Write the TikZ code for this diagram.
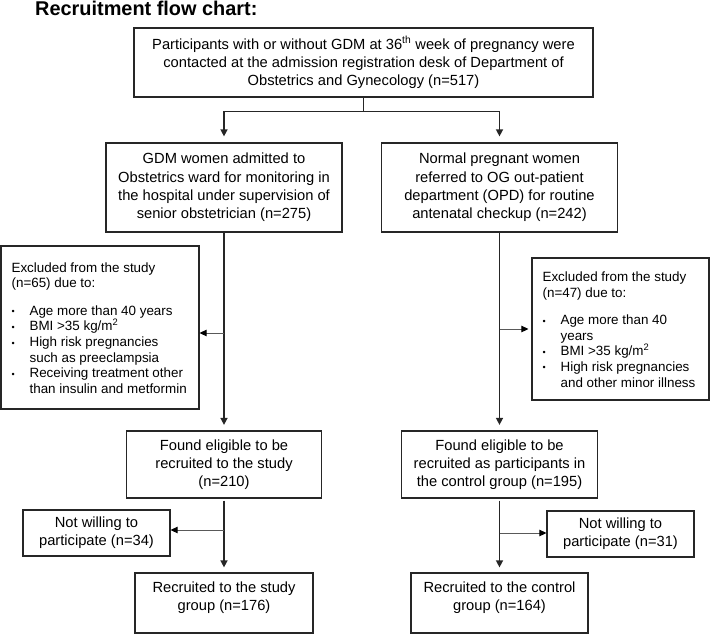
\documentclass[tikz,border=0pt]{standalone}
\usepackage{fontspec}
\setmainfont{Liberation Sans}
\usetikzlibrary{arrows.meta,calc}
\newcommand\myboxfont{\fontsize{14.7}{18.3}\selectfont}
\newcommand\myexfont{\fontsize{13.4}{15.6}\selectfont}
\newcommand\mybul{\makebox[18pt][l]{\raisebox{0.5pt}{\fontsize{9}{9}\selectfont\textbullet}}}
\newcommand\myind{\hspace*{18pt}}
\tikzset{
  box/.style={draw=black!85, line width=1.2pt, inner sep=0pt, align=center, font=\myboxfont},
  exbox/.style={draw=black!85, line width=1.2pt, inner sep=0pt},
  extext/.style={inner sep=0pt, align=left, anchor=west, font=\myexfont},
  boxtext/.style={inner sep=0pt, align=center, font=\myboxfont},
  flowline/.style={draw=black!85, line width=1.4pt},
  flow/.style={flowline, -{Triangle[length=7pt,width=7pt]}},
  side/.style={draw=black!65, line width=0.9pt, -{Triangle[length=7pt,width=6.5pt,fill=black,color=black]}},
}
\begin{document}
\begin{tikzpicture}[x=1pt,y=-1pt]
\useasboundingbox (0,0) rectangle (710,635);
\node[anchor=base west, inner sep=0pt, font=\fontsize{19.9}{24}\selectfont\bfseries] (title) at (35,15.5) {Recruitment flow chart:};

\node[box, minimum width=459pt, minimum height=69pt] (top) at (363.5,62.5)
  {Participants with or without GDM at 36\textsuperscript{th} week of pregnancy were\\
   contacted at the admission registration desk of Department of\\
   Obstetrics and Gynecology (n=517)};

\node[box, minimum width=236pt, minimum height=89pt] (b2L) at (224,187.5)
  {GDM women admitted to\\ Obstetrics ward for monitoring in\\ the hospital under supervision of\\ senior obstetrician (n=275)};
\node[box, minimum width=236pt, minimum height=89pt] (b2R) at (499.5,187.5)
  {Normal pregnant women\\ referred to OG out-patient\\ department (OPD) for routine\\ antenatal checkup (n=242)};

\node[exbox, minimum width=198pt, minimum height=163pt] (exL) at (100,327.5) {};
\node[extext] (exLt) at ($(exL.west)+(11,0.5)$)
  {Excluded from the study\\ (n=65) due to:\\[12pt]
   \mybul Age more than 40 years\\
   \mybul BMI >35 kg/m\textsuperscript{2}\\
   \mybul High risk pregnancies\\
   \myind such as preeclampsia\\
   \mybul Receiving treatment other\\
   \myind than insulin and metformin};

\node[exbox, minimum width=177pt, minimum height=142pt] (exR) at (620.5,329) {};
\node[extext] (exRt) at ($(exR.west)+(11,0.5)$)
  {Excluded from the study\\ (n=47) due to:\\[12pt]
   \mybul Age more than 40\\
   \myind years\\
   \mybul BMI >35 kg/m\textsuperscript{2}\\
   \mybul High risk pregnancies\\
   \myind and other minor illness};

\node[box, minimum width=195pt, minimum height=67pt] (eligL) at (224,464.5)
  {Found eligible to be\\ recruited to the study\\ (n=210)};
\node[box, minimum width=196pt, minimum height=67pt] (eligR) at (499.5,464.5)
  {Found eligible to be\\ recruited as participants in\\ the control group (n=195)};

\node[box, minimum width=147pt, minimum height=46pt] (nwL) at (96.5,533)
  {Not willing to\\ participate (n=34)};
\node[box, minimum width=147pt, minimum height=46pt] (nwR) at (620.5,534)
  {Not willing to\\ participate (n=31)};

\node[exbox, minimum width=178pt, minimum height=60pt] (recL) at (224,603) {};
\node[boxtext] (recLt) at ($(recL.center)+(0,-5)$) {Recruited to the study\\ group (n=176)};
\node[exbox, minimum width=177pt, minimum height=60pt] (recR) at (499.5,603) {};
\node[boxtext] (recRt) at ($(recR.center)+(0,-5)$) {Recruited to the control\\ group (n=164)};

% split from top box
\coordinate (split) at (top.south |- 0,111.7);
\coordinate (splitL) at (b2L.north |- split);
\coordinate (splitR) at (b2R.north |- split);
\draw[flowline] (top.south) -- (split);
\draw[flowline, line cap=rect] (splitL) -- (splitR);
\draw[flow, shorten >=6pt] (splitL) -- (b2L.north);
\draw[flow, shorten >=6pt] (splitR) -- (b2R.north);

% left column
\draw[flow, shorten >=5.5pt] (b2L.south) -- (eligL.north);
\coordinate (jL1) at (b2L.south |- 0,333);
\draw[side] (jL1) -- (jL1 -| exL.east);
\draw[flow, shorten >=5pt, shorten <=2pt] (eligL.south) -- (recL.north);
\coordinate (jL2) at (eligL.south |- 0,530);
\draw[side] (jL2) -- (jL2 -| nwL.east);

% right column
\draw[flow, shorten >=5.5pt] (b2R.south) -- (eligR.north);
\coordinate (jR1) at (b2R.south |- 0,329);
\draw[side, shorten >=3pt] (jR1) -- (jR1 -| exR.west);
\draw[flow, shorten >=5pt, shorten <=2pt] (eligR.south) -- (recR.north);
\coordinate (jR2) at (eligR.south |- 0,533);
\draw[side] (jR2) -- (jR2 -| nwR.west);
\end{tikzpicture}
\end{document}
